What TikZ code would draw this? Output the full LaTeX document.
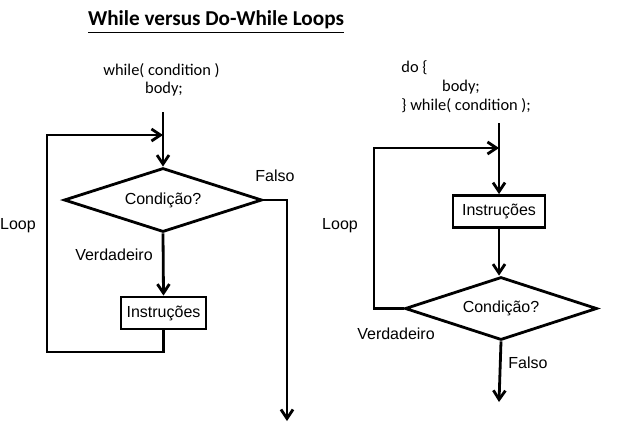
\documentclass[tikz,border=0pt]{standalone}
\usepackage{fontspec}
\setmainfont{Liberation Sans}
\newfontfamily\codefont{Carlito}
\usetikzlibrary{shapes.geometric,arrows.meta,positioning}

\begin{document}
\begin{tikzpicture}[
    x=0.5pt, y=-0.5pt,
    line width=1.4pt,
    font=\fontsize{8}{9.6}\selectfont,
    arr/.style={-{Straight Barb[length=4.5pt,width=6pt,line width=1.4pt]}},
    condbox/.style={draw, diamond, aspect=3, inner sep=0pt, minimum width=99pt, minimum height=32pt},
    bodybox/.style={draw, rectangle, inner sep=0pt, minimum height=16pt},
    codetext/.style={font=\codefont\fontsize{8.2}{9.8}\selectfont, inner sep=0pt}
]

  \useasboundingbox (0,0) rectangle (624,429);

  % Title
  \node[font=\codefont\bfseries\fontsize{10.6}{12.7}\selectfont] (title) at (216,22) {\underline{While versus Do-While Loops}};

  % =========================================================================
  % WHILE (LEFT)
  % =========================================================================
  \node[codetext, anchor=west] (wcode1) at (102,71) {while( condition )};
  \node[codetext] (wcode2) at (164,89) {body;};

  \node[condbox] (wcond) at (163,200) {Condição?};
  \node[bodybox, minimum width=42.5pt] (wbody) at (163.5,313) {Instruções};

  \coordinate (wtop) at (163,112);
  \coordinate (wloopbl) at (47,352);
  \coordinate (wloopin) at (163,135);
  \coordinate (wexit) at (287,421);

  \draw[arr] (wtop) -- (wcond.north);
  \draw[arr] (wcond.south) -- (wbody.north);
  \draw[arr] (wbody.south) |- (wloopbl) |- (wloopin);
  \draw[arr] (wcond.east) -| (wexit);

  \node (wtrue) at (114,255) {Verdadeiro};
  \node (wfalse) at (275,176) {Falso};
  \node (wloop) at (18,226) {Loop};

  % =========================================================================
  % DO-WHILE (RIGHT)
  % =========================================================================
  \node[codetext, anchor=west] (dcode1) at (400,68) {do \{};
  \node[codetext] (dcode2) at (461,87) {body;};
  \node[codetext, anchor=west] (dcode3) at (400,106) {\} while( condition );};

  \node[bodybox, minimum width=46pt] (dbody) at (499,211.5) {Instruções};
  \node[condbox, minimum width=96pt, minimum height=31.5pt] (dcond) at (501,308.5) {Condição?};

  \coordinate (dtop) at (499,123);
  \coordinate (dloopl) at (374,148);
  \coordinate (dloopin) at (499,148);
  \coordinate (dexit) at (499,402);

  \draw[arr] (dtop) -- (dbody.north);
  \draw[arr] (dbody.south) -- (dbody.south |- dcond.north);
  \draw[arr] (dcond.west) -| (dloopl) -- (dloopin);
  \draw[arr] (dcond.south) -- (dexit);

  \node (dtrue) at (396,334) {Verdadeiro};
  \node (dfalse) at (528,363) {Falso};
  \node (dloop) at (340,226) {Loop};

\end{tikzpicture}
\end{document}
